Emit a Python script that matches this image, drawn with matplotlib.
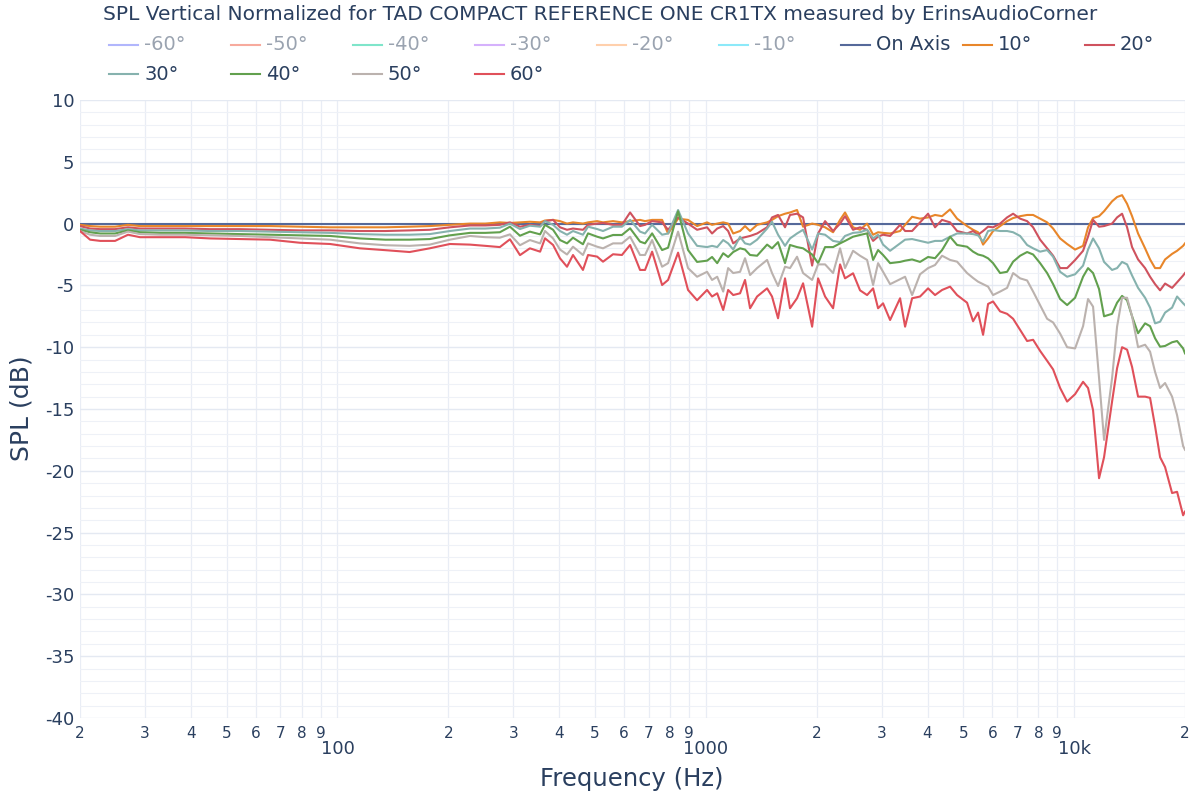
import matplotlib
matplotlib.use("Agg")
import matplotlib.pyplot as plt
from matplotlib.lines import Line2D
from matplotlib.ticker import FixedLocator, FixedFormatter, MultipleLocator

# ---- data ----
freq = [
    20, 21.3, 22.7, 24.9, 27.0, 29.1, 33.0, 38.6, 45.1, 54.4,
    65.6, 79.1, 95.5, 115, 135, 157, 178, 202, 229, 252,
    276, 294, 313, 333, 355, 366, 385, 402, 420, 436,
    464, 479, 507, 526, 560, 592, 623, 663, 684, 715,
    761, 790, 841, 895, 947, 1008, 1040, 1074, 1115, 1150,
    1187, 1239, 1278, 1319, 1378, 1467, 1513, 1571, 1641, 1693,
    1769, 1837, 1944, 2018, 2108, 2216, 2315, 2388, 2511, 2623,
    2741, 2846, 2936, 3029, 3165, 3369, 3476, 3632, 3817, 4013,
    4192, 4380, 4605, 4811, 5121, 5317, 5486, 5660, 5840, 6025,
    6295, 6577, 6829, 7135, 7454, 7739, 8085, 8447, 8770, 9162,
    9572, 10060, 10575, 10910, 11257, 11687, 12058, 12677, 13080, 13495,
    13924, 14366, 14915, 15583, 16077, 16588, 17115, 17658, 18448, 19034,
    19766, 20000,
]

on_axis = [0.0] * len(freq)

deg10 = [
    -0.1, -0.2, -0.25, -0.25, -0.1, -0.2, -0.2, -0.2, -0.2, -0.2,
    -0.2, -0.25, -0.3, -0.3, -0.3, -0.25, -0.2, -0.1, 0.0, 0.0,
    0.1, 0.05, 0.1, 0.15, 0.1, 0.25, 0.3, 0.2, 0.0, 0.1,
    0.0, 0.1, 0.2, 0.1, 0.2, 0.1, 0.2, 0.3, 0.2, 0.3,
    0.3, -0.8, 0.4, 0.3, -0.2, 0.1, -0.1, 0.0, 0.1, 0.0,
    -0.8, -0.6, -0.2, -0.6, -0.1, 0.1, 0.3, 0.6, 0.8, 0.9,
    1.1, -0.25, 0.0, -0.1, -0.3, -0.7, 0.3, 0.9, -0.3, -0.5,
    0.0, -0.9, -0.7, -0.75, -0.8, -0.6, -0.1, 0.55, 0.4, 0.5,
    0.7, 0.6, 1.15, 0.4, -0.2, -0.5, -0.7, -1.7, -1.2, -0.6,
    -0.2, 0.2, 0.45, 0.6, 0.7, 0.7, 0.4, 0.1, -0.4, -1.2,
    -1.65, -2.1, -1.8, -0.3, 0.45, 0.6, 1.0, 1.8, 2.15, 2.3,
    1.6, 0.6, -0.8, -2.0, -2.9, -3.6, -3.6, -2.9, -2.45, -2.2,
    -1.8, -1.6,
]

deg20 = [
    -0.2, -0.4, -0.45, -0.45, -0.3, -0.4, -0.4, -0.4, -0.45, -0.45,
    -0.5, -0.55, -0.55, -0.6, -0.6, -0.55, -0.5, -0.3, -0.15, -0.15,
    -0.1, 0.1, -0.25, -0.1, -0.2, 0.2, 0.3, -0.3, -0.5, -0.4,
    -0.5, -0.1, 0.0, 0.05, -0.1, -0.1, 0.9, -0.2, -0.1, 0.2,
    0.1, -0.5, 0.5, 0.0, -0.5, -0.3, -0.8, -0.4, -0.2, -0.6,
    -1.6, -1.2, -1.1, -1.0, -0.8, -0.3, 0.5, 0.7, -0.3, 0.7,
    0.8, 0.5, -3.4, -0.8, 0.2, -0.6, 0.0, 0.6, -0.5, -0.3,
    -0.5, -1.4, -1.05, -0.9, -1.0, -0.1, -0.6, -0.6, 0.1, 0.8,
    -0.3, 0.3, 0.1, -0.6, -0.8, -0.6, -0.9, -0.6, -0.25, -0.3,
    0.0, 0.5, 0.8, 0.4, 0.2, -0.3, -1.3, -2.0, -2.6, -3.6,
    -3.6, -2.95, -2.2, -1.05, 0.3, -0.25, -0.2, 0.0, 0.5, 0.8,
    -0.3, -1.9, -2.9, -3.6, -4.3, -4.9, -5.4, -4.85, -5.2, -4.75,
    -4.2, -4.0,
]

deg30 = [
    -0.4, -0.55, -0.6, -0.6, -0.45, -0.55, -0.55, -0.55, -0.6, -0.6,
    -0.65, -0.7, -0.75, -0.85, -0.9, -0.9, -0.85, -0.6, -0.4, -0.4,
    -0.33, 0.0, -0.44, -0.17, -0.25, 0.2, -0.1, -0.6, -0.9, -0.6,
    -0.9, -0.25, -0.44, -0.6, -0.25, -0.25, 0.3, -0.65, -0.8, -0.1,
    -0.9, -0.8, 1.1, -0.8, -1.8, -1.9, -1.8, -1.9, -1.33, -1.6,
    -2.1, -1.06, -1.6, -1.7, -1.3, -0.4, 0.15, -0.9, -1.8, -1.2,
    -0.8, -0.5, -2.1, -0.8, -0.9, -1.4, -1.5, -1.0, -0.75, -0.7,
    -0.5, -1.2, -0.9, -1.7, -2.2, -1.6, -1.3, -1.25, -1.4, -1.55,
    -1.4, -1.4, -1.06, -0.8, -0.8, -0.85, -0.95, -1.46, -0.6, -0.52,
    -0.6, -0.6, -0.7, -1.0, -1.73, -2.0, -2.27, -2.14, -2.68, -3.9,
    -4.3, -4.1, -3.4, -2.1, -1.2, -2.0, -3.1, -3.75, -3.6, -3.1,
    -3.3, -4.2, -5.2, -6.0, -6.8, -8.07, -7.94, -7.2, -6.8, -5.9,
    -6.45, -6.6,
]

deg40 = [
    -0.5, -0.7, -0.8, -0.8, -0.55, -0.7, -0.75, -0.75, -0.8, -0.85,
    -0.9, -0.95, -1.0, -1.2, -1.3, -1.3, -1.25, -0.95, -0.75, -0.75,
    -0.7, -0.25, -0.98, -0.65, -0.87, -0.1, -0.5, -1.33, -1.6, -1.14,
    -1.67, -0.79, -1.06, -1.2, -0.92, -0.92, -0.38, -1.46, -1.6, -0.79,
    -2.14, -1.95, 1.0, -2.14, -3.1, -3.0, -2.7, -3.2, -2.4, -2.7,
    -2.3, -2.0, -2.1, -2.54, -2.6, -1.7, -2.0, -1.5, -3.2, -1.73,
    -1.9, -2.0, -2.5, -3.2, -1.9, -1.9, -1.6, -1.4, -1.06, -0.92,
    -0.79, -2.94, -2.14, -2.54, -3.2, -3.1, -3.0, -2.9, -3.1, -2.7,
    -2.8, -2.14, -1.06, -1.73, -1.87, -2.27, -2.5, -2.6, -2.81, -3.2,
    -4.0, -3.9, -3.08, -2.6, -2.3, -2.5, -3.2, -4.0, -4.9, -6.1,
    -6.59, -6.0, -4.3, -3.6, -4.0, -5.3, -7.5, -7.3, -6.4, -5.85,
    -6.2, -7.5, -8.87, -8.07, -8.3, -9.28, -9.96, -9.9, -9.6, -9.5,
    -10.1, -10.5,
]

deg50 = [
    -0.6, -0.9, -1.0, -1.0, -0.65, -0.85, -0.9, -0.9, -0.95, -1.0,
    -1.1, -1.2, -1.3, -1.6, -1.75, -1.8, -1.7, -1.3, -1.0, -1.1,
    -1.14, -0.87, -1.75, -1.33, -1.6, -0.6, -1.2, -2.1, -2.5, -1.87,
    -2.54, -1.6, -1.87, -2.0, -1.6, -1.6, -1.06, -2.54, -2.54, -1.33,
    -3.49, -3.2, -0.65, -3.6, -4.3, -3.9, -4.56, -4.3, -5.5, -3.6,
    -4.0, -3.9, -2.8, -4.16, -3.6, -2.94, -4.0, -5.05, -3.49, -3.6,
    -2.68, -4.0, -4.56, -3.3, -3.3, -4.0, -2.0, -3.6, -2.2, -2.6,
    -2.94, -4.97, -3.2, -3.9, -4.9, -4.5, -4.3, -5.78, -4.1, -3.6,
    -3.35, -2.6, -2.94, -3.08, -4.0, -4.4, -4.7, -4.9, -5.1, -5.78,
    -5.5, -5.2, -4.0, -4.43, -4.6, -5.5, -6.6, -7.7, -8.0, -8.9,
    -10.0, -10.1, -8.3, -6.1, -6.72, -12.5, -17.5, -12.5, -8.34, -6.0,
    -6.0, -7.5, -10.0, -9.8, -10.36, -12.0, -13.3, -12.9, -14.0, -15.5,
    -18.0, -18.3,
]

deg60 = [
    -0.6, -1.3, -1.4, -1.4, -0.9, -1.1, -1.1, -1.1, -1.2, -1.25,
    -1.3, -1.55, -1.65, -2.0, -2.15, -2.3, -2.0, -1.65, -1.7, -1.8,
    -1.9, -1.27, -2.55, -2.0, -2.27, -1.19, -1.73, -2.81, -3.49, -2.54,
    -3.75, -2.54, -2.67, -3.08, -2.48, -2.54, -1.73, -3.75, -3.75, -2.27,
    -4.97, -4.56, -2.35, -5.37, -6.2, -5.37, -5.9, -5.64, -6.99, -5.37,
    -5.78, -5.64, -4.56, -6.85, -5.9, -5.24, -5.9, -7.66, -4.43, -6.85,
    -6.04, -4.83, -8.34, -4.43, -5.9, -6.85, -3.3, -4.43, -4.02, -5.4,
    -5.78, -5.24, -6.85, -6.45, -7.8, -6.04, -8.34, -6.04, -5.9, -5.24,
    -5.78, -5.37, -5.1, -5.78, -6.4, -7.9, -7.2, -9.0, -6.5, -6.3,
    -7.1, -7.3, -7.7, -8.6, -9.5, -9.4, -10.3, -11.1, -11.8, -13.3,
    -14.4, -13.8, -12.8, -13.3, -15.1, -20.6, -18.9, -14.4, -11.7, -10.0,
    -10.2, -11.6, -14.0, -14.0, -14.1, -16.4, -18.9, -19.7, -21.8, -21.7,
    -23.6, -23.3,
]

hidden_labels = ['-60°', '-50°', '-40°', '-30°', '-20°', '-10°']
hidden_colors = ['#b1b6fc', '#f7aa9d', '#7fe5ca', '#d5b1fc', '#ffd0ac', '#8ce9f9']

shown_labels = ['On Axis', '10°', '20°', '30°', '40°', '50°', '60°']
shown_series = [on_axis, deg10, deg20, deg30, deg40, deg50, deg60]
shown_colors = ['#55699a', '#e8862a', '#cf525e', '#86b2ae', '#62a04e', '#bbb2ae', '#e0505a']

TXT = '#2a3f5f'

# ---- figure ----
W, H = 1200, 800
fig = plt.figure(figsize=(12, 8), dpi=100)
ax = fig.add_axes([80 / W, 1 - 718 / H, (1185 - 80) / W, (718 - 100) / H])

for vals, col in zip(shown_series, shown_colors):
    ax.plot(freq, vals, color=col, lw=1.5, solid_joinstyle='round')

ax.set_xscale('log')
ax.set_xlim(20, 20000)
ax.set_ylim(-40, 10)

# grid
ax.yaxis.set_major_locator(MultipleLocator(5))
ax.yaxis.set_minor_locator(MultipleLocator(1))
ax.grid(which='major', axis='y', color='#e4e9f2', lw=1.0)
ax.grid(which='minor', axis='y', color='#eef1f7', lw=0.8)

major_x = [100, 1000, 10000]
minor_x = [d * 10 ** e for e in (1, 2, 3) for d in range(2, 10)] + [20000]
ax.xaxis.set_major_locator(FixedLocator(major_x))
ax.xaxis.set_minor_locator(FixedLocator(minor_x))
ax.xaxis.set_major_formatter(FixedFormatter(['100', '1000', '10k']))
ax.xaxis.set_minor_formatter(FixedFormatter([str(v)[0] for v in minor_x]))
ax.grid(which='both', axis='x', color='#e9edf5', lw=0.9)
ax.set_axisbelow(True)

ax.tick_params(axis='x', which='minor', length=0, pad=6, labelsize=11, labelcolor=TXT)
ax.tick_params(axis='x', which='major', length=0, pad=16, labelsize=13, labelcolor=TXT)
ax.tick_params(axis='y', which='both', length=0, pad=4, labelsize=13, labelcolor=TXT)
ax.set_yticks(range(-40, 11, 5))
ax.set_yticklabels([str(v) for v in range(-40, 11, 5)])

for s in ax.spines.values():
    s.set_visible(False)

# axis titles
fig.text(632 / W, 1 - 779 / H, 'Frequency (Hz)', ha='center', va='center',
         fontsize=17.5, color=TXT)
fig.text(22 / W, 1 - 408 / H, 'SPL (dB)', ha='center', va='center',
         rotation=90, fontsize=18, color=TXT)

# title
fig.text(103 / W, 1 - 15 / H,
         'SPL Vertical Normalized for TAD COMPACT REFERENCE ONE CR1TX measured by ErinsAudioCorner',
         ha='left', va='center', fontsize=14.5, color=TXT)

# legend drawn by hand (plotly-style horizontal legend)
labels = hidden_labels + shown_labels
colors = hidden_colors + shown_colors
for i, (lab, col) in enumerate(zip(labels, colors)):
    r, c = divmod(i, 9)
    x0 = 109 + 122 * c
    y0 = 45 + 29 * r
    fig.add_artist(Line2D([x0 / W, (x0 + 29) / W], [1 - y0 / H, 1 - y0 / H],
                          color=col, lw=1.5, transform=fig.transFigure))
    fig.text((x0 + 35) / W, 1 - y0 / H, lab, ha='left', va='center',
             fontsize=14, color='#9aa3b0' if i < 6 else TXT)

fig.savefig('out.png', dpi=100, facecolor='white')
